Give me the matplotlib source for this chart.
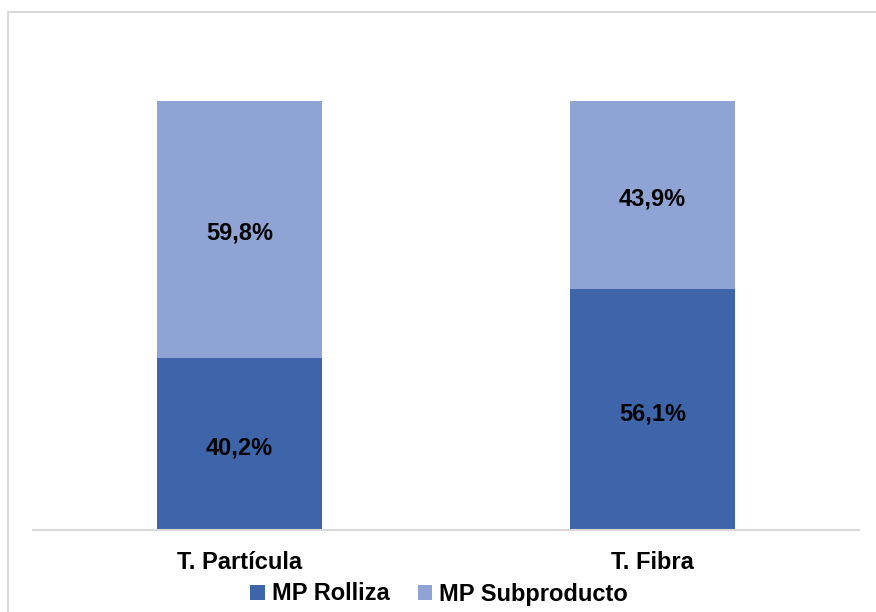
import matplotlib.pyplot as plt
from matplotlib.patches import Rectangle

plt.rcParams['font.family'] = ['Liberation Sans', 'DejaVu Sans']

categories = ['T. Partícula', 'T. Fibra']
rolliza = [40.2, 56.1]
subproducto = [59.8, 43.9]
series_names = ['MP Rolliza', 'MP Subproducto']

dark = '#3E64AA'
light = '#8FA3D4'

fig = plt.figure(figsize=(8.76, 6.12), dpi=100)
# borde gris del área del gráfico
fig.patches.append(Rectangle((8 / 876, -0.1), 1.2, (612 - 12) / 612 + 0.1,
                             transform=fig.transFigure, fill=False,
                             edgecolor='#D9D9D9', linewidth=1.5))

ax = fig.add_axes([33 / 876, (612 - 530) / 612, (859 - 33) / 876, (530 - 101) / 612])
x = range(len(categories))
b1 = ax.bar(x, rolliza, width=0.4, color=dark, label=series_names[0])
b2 = ax.bar(x, subproducto, width=0.4, bottom=rolliza, color=light, label=series_names[1])

# etiquetas de datos
for i in x:
    ax.annotate(f'{rolliza[i]:.1f}%'.replace('.', ','), (i, rolliza[i] / 2),
                xytext=(0, -3), textcoords='offset points',
                ha='center', va='center', fontsize=17, fontweight='bold')
    ax.annotate(f'{subproducto[i]:.1f}%'.replace('.', ','), (i, rolliza[i] + subproducto[i] / 2),
                xytext=(0, -3), textcoords='offset points',
                ha='center', va='center', fontsize=17, fontweight='bold')

ax.set_xlim(-0.5, 1.5)
ax.set_ylim(0, 100)
ax.set_xticks(list(x))
ax.set_xticklabels(categories, fontsize=17, fontweight='bold')
ax.tick_params(axis='x', length=0, pad=15)
ax.set_yticks([])
for s in ['top', 'right', 'left']:
    ax.spines[s].set_visible(False)
ax.spines['bottom'].set_color('#D9D9D9')
ax.spines['bottom'].set_linewidth(1.5)

fig.legend(handles=[b1, b2], loc='center', bbox_to_anchor=(439 / 876, 1 - 594 / 612),
           ncol=2, frameon=False, prop={'size': 17, 'weight': 'bold'},
           handlelength=0.6, handleheight=0.6, handletextpad=0.3, columnspacing=1.2)

fig.savefig('out.png', dpi=100)
